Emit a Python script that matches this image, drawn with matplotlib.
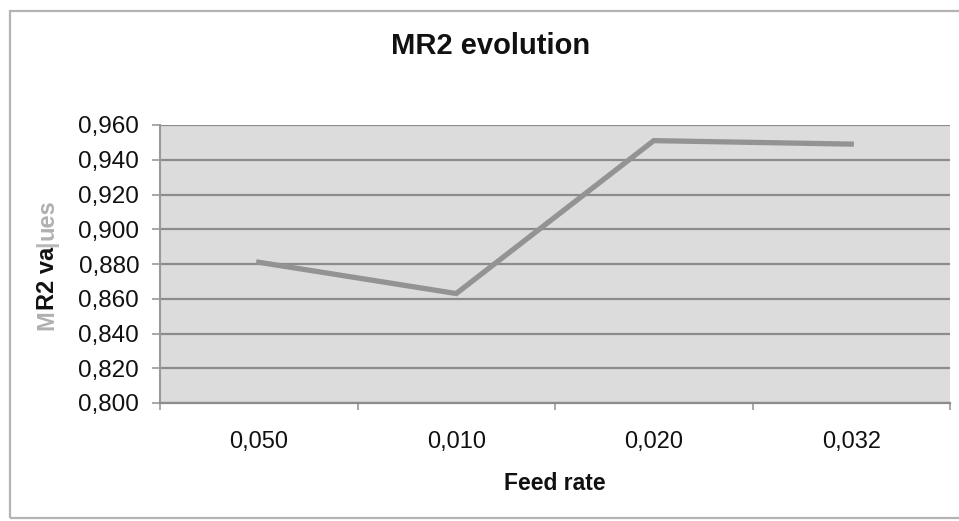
import matplotlib
matplotlib.use("Agg")
import matplotlib.pyplot as plt
from matplotlib.patches import Rectangle
from matplotlib.ticker import FixedLocator, FuncFormatter

plt.rcParams['font.family'] = ['Liberation Sans', 'DejaVu Sans']

categories = ["0,050", "0,010", "0,020", "0,032"]
mr2_values = [0.881, 0.863, 0.951, 0.949]
y_ticks = [0.80, 0.82, 0.84, 0.86, 0.88, 0.90, 0.92, 0.94, 0.96]

W, H = 959, 521
fig = plt.figure(figsize=(W / 100, H / 100), dpi=100)
fig.patch.set_facecolor('white')

# outer chart border
fig.patches.append(Rectangle((10 / W, 3 / H), 980 / W, 507 / H, transform=fig.transFigure,
                             fill=False, edgecolor='#b4b4b4', linewidth=1.6, zorder=0))

ax = fig.add_axes([160 / W, 118 / H, 790 / W, 278 / H])
ax.set_facecolor('#dcdcdc')

x = list(range(len(categories)))
ax.plot(x, mr2_values, color='#939393', linewidth=3.8, solid_joinstyle='miter', zorder=3)

ax.set_xlim(-0.5, len(categories) - 0.5)
ax.set_ylim(y_ticks[0], y_ticks[-1])
ax.set_yticks(y_ticks)
ax.yaxis.set_major_formatter(FuncFormatter(lambda v, p: f"{v:.3f}".replace('.', ',')))
ax.set_xticks(x)
ax.set_xticklabels(categories)
ax.xaxis.set_minor_locator(FixedLocator([i - 0.5 for i in range(len(categories) + 1)]))

ax.grid(axis='y', color='#8c8c8c', linewidth=1.6, zorder=1)
ax.set_axisbelow(True)

for s in ['top', 'right']:
    ax.spines[s].set_visible(False)
ax.spines['left'].set_color('#9a9a9a')
ax.spines['left'].set_linewidth(1.5)
ax.spines['bottom'].set_color('#8c8c8c')
ax.spines['bottom'].set_linewidth(1.6)

ax.tick_params(axis='y', length=6, width=1.2, color='#9a9a9a', pad=9, labelsize=17.5, labelcolor='#111111')
ax.tick_params(axis='x', which='major', length=0, pad=20, labelsize=17, labelcolor='#111111')
ax.tick_params(axis='x', which='minor', length=5, width=1.2, color='#9a9a9a')

fig.text(491 / W, 1 - 46 / H, "MR2 evolution", ha='center', va='center',
         fontsize=21, fontweight='bold', color='#111111')
fig.text(555 / W, 1 - 483 / H, "Feed rate", ha='center', va='center',
         fontsize=16.5, fontweight='bold', color='#111111')

# y axis label drawn piecewise (scanned look: parts faded)
pieces = [("M", '#b0b0b0'), ("R2 va", '#111111'), ("|", '#b8b8b8'), ("ues", '#b0b0b0')]
renderer = fig.canvas.get_renderer()
ylab_x = 47
ylab_start = 330  # pixel y (from top) of bottom of label
pos = ylab_start
for txt, col in pieces:
    t = fig.text(ylab_x / W, 1 - pos / H, txt, rotation=90, rotation_mode='anchor',
                 ha='left', va='center', fontsize=17, fontweight='bold', color=col)
    tmp = fig.text(0, 0, txt, fontsize=17, fontweight='bold')
    w = tmp.get_window_extent(renderer).width
    tmp.remove()
    pos -= w

fig.savefig("out.png", dpi=100, facecolor='white')
